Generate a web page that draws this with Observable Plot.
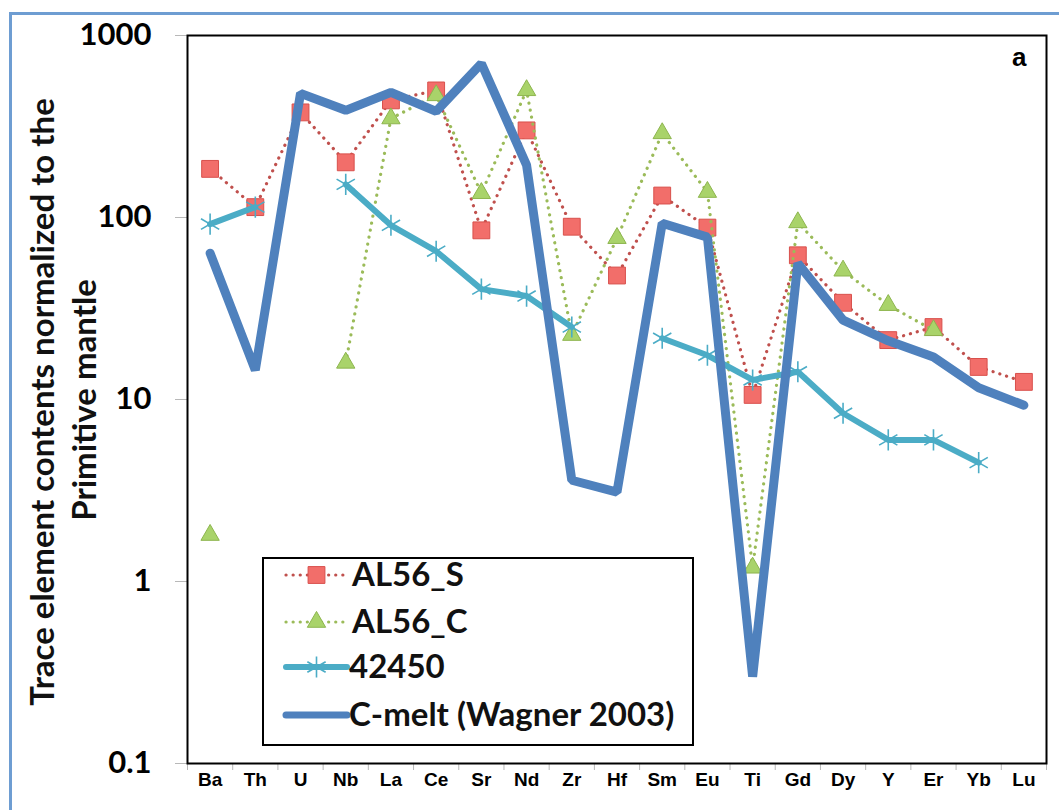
<!DOCTYPE html>
<html>
<head>
<meta charset="utf-8">
<script src="https://cdn.jsdelivr.net/npm/d3@7"></script>
<script src="https://cdn.jsdelivr.net/npm/@observablehq/plot@0.6"></script>
<style>
  html, body { margin: 0; padding: 0; background: #fff; }
  #wrap { position: relative; width: 1059px; height: 810px; overflow: hidden; }
  #frame { position: absolute; left: 9px; top: 12px; right: -10px; bottom: -10px;
           border-top: 3px solid #6e9dd2; border-left: 3px solid #6e9dd2; pointer-events: none; }
</style>
</head>
<body>
<div id="wrap"><div id="frame"></div></div>
<script>
// ---- data ----
const elements = ["Ba","Th","U","Nb","La","Ce","Sr","Nd","Zr","Hf","Sm","Eu","Ti","Gd","Dy","Y","Er","Yb","Lu"];
const al56S  = [185, 114, 378, 201, 440, 499, 85, 301, 89, 48, 132, 88, 10.6, 62, 34, 21.2, 25, 15.1, 12.5];
const al56C  = [1.8, null, null, 15.9, 350, 469, 136, 500, 22.6, 77, 290, 138, 1.19, 94, 51, 33, 24, null, null];
const s42450 = [92, 114, null, 152, 90.6, 65.3, 40.4, 37, 25, null, 21.7, 17.5, 12.8, 14.2, 8.4, 6.0, 6.0, 4.5, null];
const cmelt  = [63.7, 14.5, 481, 388, 487, 383, 702, 194, 3.6, 3.1, 93, 78, 0.30, 56, 27.3, 21, 17.1, 11.6, 9.3];
const yTicks = [0.1, 1, 10, 100, 1000];
const seriesNames = ["AL56_S", "AL56_C", "42450", "C-melt (Wagner 2003)"];
const yTitle = ["Trace element contents normalized to the", "Primitive mantle"];
const panelLabel = "a";

// ---- styles ----
const C = {
  redLine: "#c0504d", redFill: "#f26e6a", redStroke: "#d8504c",
  greenLine: "#9bbb59", greenFill: "#a9d36a", greenStroke: "#8db54e",
  cyan: "#4bacc6", blue: "#4f81bd"
};
const X = (d, i) => i + 0.5;
const Y = d => (d == null ? NaN : d);

const plot = Plot.plot({
  width: 1059, height: 810,
  marginLeft: 187, marginRight: 13, marginTop: 35, marginBottom: 47,
  style: { background: "transparent", fontFamily: "Lato, sans-serif", overflow: "visible" },
  x: { domain: [0, elements.length], axis: null, label: null },
  y: { type: "log", domain: [0.1, 1000], axis: null, label: null },
  marks: [
    Plot.axisX({ ticks: d3.range(0, elements.length + 1), tickSize: 7, tickFormat: () => "", stroke: "#b8b8b8", label: null }),
    Plot.axisX({ ticks: d3.range(elements.length).map(i => i + 0.5), tickSize: 0, tickPadding: 9,
      tickFormat: d => elements[Math.floor(d)], fontSize: 19, fontWeight: "bold",
      fontFamily: "Liberation Sans, Arial, sans-serif", label: null }),
    Plot.axisY({ ticks: yTicks, tickSize: 12, tickPadding: 24, tickFormat: d => String(d),
      stroke: "#b8b8b8", fontSize: 31, fontWeight: "bold", label: null }),
    // AL56_S
    Plot.line(al56S, { x: X, y: Y, stroke: C.redLine, strokeWidth: 3.2, strokeDasharray: "0.1,7", strokeLinecap: "round" }),
    Plot.dot(al56S, { x: X, y: Y, symbol: "square", r: 9.5, fill: C.redFill, stroke: C.redStroke, strokeWidth: 1 }),
    // AL56_C
    Plot.line(al56C, { x: X, y: Y, stroke: C.greenLine, strokeWidth: 3.2, strokeDasharray: "0.1,7", strokeLinecap: "round" }),
    Plot.dot(al56C, { x: X, y: Y, symbol: "triangle", r: 6.8, fill: C.greenFill, stroke: C.greenStroke, strokeWidth: 1 }),
    // 42450
    Plot.line(s42450, { x: X, y: Y, stroke: C.cyan, strokeWidth: 6, strokeLinejoin: "round", strokeLinecap: "round" }),
    Plot.dot(s42450, { x: X, y: Y, symbol: "asterisk", r: 10, stroke: C.cyan, strokeWidth: 1.6 }),
    // C-melt
    Plot.line(cmelt, { x: X, y: Y, stroke: C.blue, strokeWidth: 9, strokeLinejoin: "miter", strokeLinecap: "round" }),
    Plot.frame({ stroke: "#000", strokeWidth: 2 }),
    Plot.text([panelLabel], { frameAnchor: "top-right", dx: -20, dy: 12, fontSize: 26, fontWeight: "bold",
      fontFamily: "Liberation Sans, Arial, sans-serif", lineAnchor: "top" })
  ]
});

const svg = d3.select(plot);

// y-axis title (two rotated lines)
const tg = svg.append("g").attr("font-family", "Lato, sans-serif").attr("font-weight", "bold")
  .attr("font-size", 33).attr("fill", "#111").attr("text-anchor", "middle");
tg.append("text").attr("transform", "translate(54,402) rotate(-90)").text(yTitle[0]);
tg.append("text").attr("transform", "translate(96,400) rotate(-90)").text(yTitle[1]);

// legend
const lg = svg.append("g").attr("text-anchor", "start");
lg.append("rect").attr("x", 263).attr("y", 558).attr("width", 430).attr("height", 187)
  .attr("fill", "#fff").attr("stroke", "#000").attr("stroke-width", 2);
const rowsY = [575, 622, 667, 715];
const sx0 = 286, sx1 = 347, sxm = (sx0 + sx1) / 2;
// row 1
lg.append("line").attr("x1", sx0).attr("x2", sx1).attr("y1", rowsY[0]).attr("y2", rowsY[0])
  .attr("stroke", C.redLine).attr("stroke-width", 3.2).attr("stroke-dasharray", "0.1,7").attr("stroke-linecap", "round");
lg.append("path").attr("d", d3.symbol(d3.symbolSquare, Math.PI * 9.5 * 9.5)()).attr("transform", `translate(${sxm},${rowsY[0]})`)
  .attr("fill", C.redFill).attr("stroke", C.redStroke);
// row 2
lg.append("line").attr("x1", sx0).attr("x2", sx1).attr("y1", rowsY[1]).attr("y2", rowsY[1])
  .attr("stroke", C.greenLine).attr("stroke-width", 3.2).attr("stroke-dasharray", "0.1,7").attr("stroke-linecap", "round");
lg.append("path").attr("d", d3.symbol(d3.symbolTriangle, Math.PI * 6.8 * 6.8)()).attr("transform", `translate(${sxm},${rowsY[1]})`)
  .attr("fill", C.greenFill).attr("stroke", C.greenStroke);
// row 3
lg.append("line").attr("x1", sx0).attr("x2", sx1).attr("y1", rowsY[2]).attr("y2", rowsY[2])
  .attr("stroke", C.cyan).attr("stroke-width", 6).attr("stroke-linecap", "round");
lg.append("path").attr("d", d3.symbol(d3.symbolAsterisk, Math.PI * 100)()).attr("transform", `translate(${sxm},${rowsY[2]})`)
  .attr("fill", "none").attr("stroke", C.cyan).attr("stroke-width", 1.6);
// row 4
lg.append("line").attr("x1", sx0).attr("x2", sx1).attr("y1", rowsY[3]).attr("y2", rowsY[3])
  .attr("stroke", C.blue).attr("stroke-width", 7).attr("stroke-linecap", "round");
const textX = [352, 352, 349, 349];
seriesNames.forEach((name, k) => {
  lg.append("text").attr("x", textX[k]).attr("y", rowsY[k] + 11)
    .attr("text-anchor", "start")
    .attr("font-family", "Lato, sans-serif").attr("font-weight", "bold").attr("font-size", 33)
    .attr("fill", "#111").text(name);
});

document.getElementById("wrap").prepend(plot);
</script>
</body>
</html>
